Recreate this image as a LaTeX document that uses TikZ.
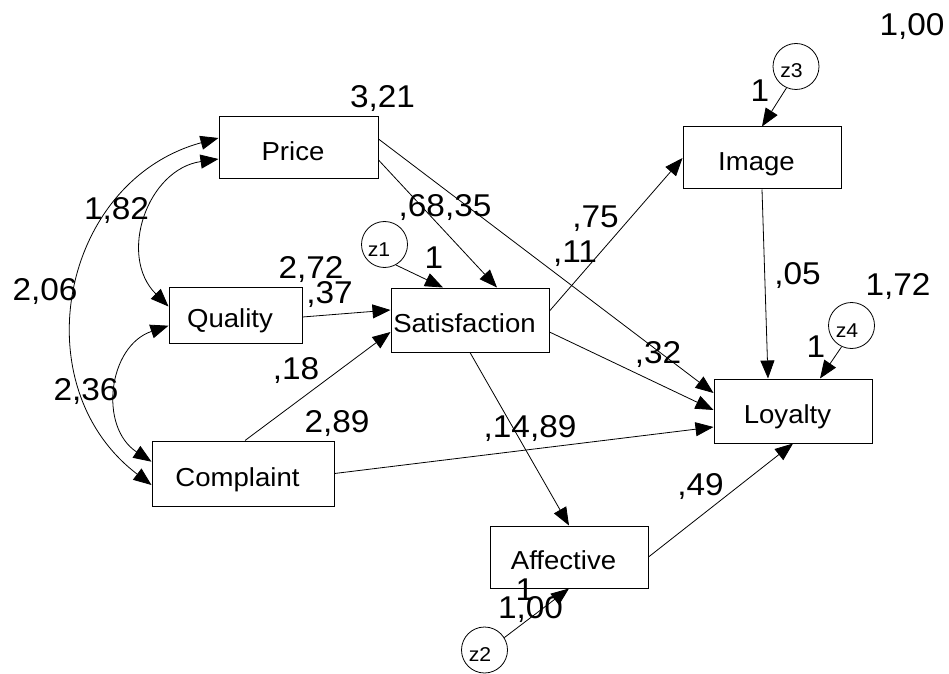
\documentclass[tikz,border=0pt]{standalone}
\usepackage{fontspec}
\setmainfont{Liberation Sans}[FakeStretch=1.06]
\usetikzlibrary{arrows.meta}
\begin{document}
\begin{tikzpicture}[x=1pt,y=1pt,
  obs/.style={draw, rectangle, line width=1pt, inner sep=0pt, text height=25pt, text depth=0pt, font=\fontsize{26}{26}\selectfont},
  err/.style={draw, circle, line width=0.8pt, minimum size=46pt, inner sep=0pt, text height=23pt, text depth=0pt, font=\fontsize{20}{20}\selectfont},
  num/.style={anchor=base, inner sep=0pt, font=\fontsize{31.5}{31.5}\selectfont},
  arr/.style={line width=0.8pt, -{Triangle[length=18pt,width=14pt]}},
  covarr/.style={line width=0.8pt, {Triangle[length=18pt,width=14pt]}-{Triangle[length=18pt,width=14pt]}},
]
\useasboundingbox (0,0) rectangle (949,673);

% observed / latent boxes
\node[obs, minimum width=159pt, minimum height=62pt] (price) at (298.5,525) {Price\hspace*{11pt}};
\node[obs, minimum width=133pt, minimum height=56pt] (quality) at (235.5,358) {Quality\hspace*{11pt}};
\node[obs, minimum width=182pt, minimum height=65pt] (complaint) at (243,199.5) {Complaint\hspace*{11pt}};
\node[obs, minimum width=158pt, minimum height=64pt] (satisfaction) at (470,353) {Satisfaction\hspace*{11pt}};
\node[obs, minimum width=158pt, minimum height=62pt] (image) at (762,515) {Image\hspace*{11pt}};
\node[obs, minimum width=158pt, minimum height=64pt] (loyalty) at (793,262) {Loyalty\hspace*{11pt}};
\node[obs, minimum width=158pt, minimum height=62pt] (affective) at (569,116) {Affective\hspace*{11pt}};

% error terms
\node[err] (z1) at (384.5,428.5) {z1\hspace*{11pt}};
\node[err] (z3) at (796,606.5) {z3\hspace*{9pt}};
\node[err] (z4) at (851.5,347.5) {z4\hspace*{9pt}};
\node[err] (z2) at (484.5,23) {z2\hspace*{9pt}};

% covariances
\draw[covarr] ([yshift=10pt]price.west) .. controls +(-157.7,-43.1) and +(-130.2,98.9) .. ([yshift=-11.5pt]complaint.west);
\draw[covarr] ([yshift=-11pt]price.west) .. controls +(-71.2,-10.3) and +(-51.0,50.7) .. ([yshift=8.5pt]quality.west);
\draw[covarr] ([yshift=-10.7pt]quality.west) .. controls +(-60.3,-20.2) and +(-53.2,34.9) .. ([yshift=11.8pt]complaint.west);

% regression paths
\draw[arr] (z1.-61) -- ([xshift=-27pt]satisfaction.north);
\draw[arr] ([yshift=-12pt]price.east) -- ([xshift=27pt]satisfaction.north);
\draw[arr] ([yshift=9pt]price.east) -- ([yshift=18pt]loyalty.west);
\draw[arr] ([yshift=-12pt]satisfaction.east) -- ([yshift=1pt]loyalty.west);
\draw[arr] (complaint.east) -- ([yshift=-16pt]loyalty.west);
\draw[arr] ([yshift=9pt]satisfaction.east) -- (image.west);
\draw[arr] (image.south) -- ([xshift=-25pt]loyalty.north);
\draw[arr] (z3.-114) -- (image.north);
\draw[arr] (z4.-115) -- ([xshift=27pt]loyalty.north);
\draw[arr] (satisfaction.south) -- (affective.north);
\draw[arr] (affective.east) -- (loyalty.south);
\draw[arr] (z2.32) -- (affective.south);
\draw[arr] ([yshift=-2pt]quality.east) -- ([yshift=10pt]satisfaction.west);
\draw[arr] ([xshift=2pt]complaint.north) -- ([yshift=-12pt]satisfaction.west);

% estimates
\node[num] (n321) at (382.5,565) {3,21};
\node[num] (n182) at (116.5,453) {1,82};
\node[num] (n206) at (45,373) {2,06};
\node[num] (n272) at (311,395) {2,72};
\node[num] (n37) at (329.5,370) {,37};
\node[num] (n18) at (296,294) {,18};
\node[num] (n289) at (337,241) {2,89};
\node[num] (n236) at (86,273) {2,36};
\node[num] (n6835) at (445,456) {,68,35};
\node[num] (n1a) at (434,405) {1};
\node[num] (n75) at (595.5,445) {,75};
\node[num] (n11) at (575,411) {,11};
\node[num] (n1489) at (530,236) {,14,89};
\node[num] (n100a) at (912,637) {1,00};
\node[num] (n1b) at (760,571) {1};
\node[num] (n05) at (797.5,389) {,05};
\node[num] (n172) at (898,378) {1,72};
\node[num] (n1c) at (816,316) {1};
\node[num] (n32) at (658,310) {,32};
\node[num] (n49) at (700.5,178) {,49};
\node[num] (n100b) at (530.5,55) {1,00};
\node[num] (n1d) at (525,73) {1};
\end{tikzpicture}
\end{document}
